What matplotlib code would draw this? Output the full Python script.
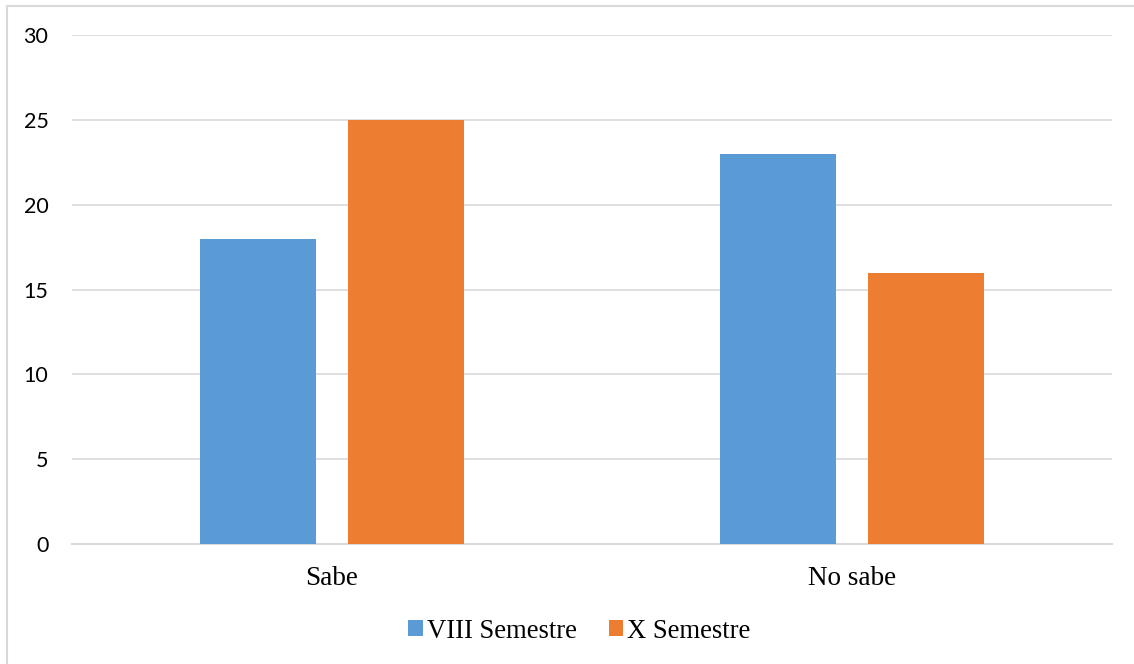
import matplotlib.pyplot as plt
import numpy as np
from matplotlib.patches import Rectangle

# datos
categorias = ['Sabe', 'No sabe']
viii_semestre = [18, 23]
x_semestre = [25, 16]
series = ['VIII Semestre', 'X Semestre']
ticks_y = [0, 5, 10, 15, 20, 25, 30]

azul = '#5B9BD5'
naranja = '#ED7D31'

fig = plt.figure(figsize=(11.34, 6.64), dpi=100)
ax = fig.add_axes([72 / 1134, 1 - 544 / 664, 1040 / 1134, 509 / 664])

x = np.arange(len(categorias))
ancho = 0.223
ax.bar(x - 0.142, viii_semestre, ancho, color=azul, label=series[0], zorder=3)
ax.bar(x + 0.142, x_semestre, ancho, color=naranja, label=series[1], zorder=3)

ax.set_xlim(-0.5, 1.5)
ax.set_ylim(0, 30)
ax.set_yticks(ticks_y)
ax.set_xticks(x)
ax.set_xticklabels(categorias, family='Liberation Serif', fontsize=19.5)
for lbl in ax.get_yticklabels():
    lbl.set_family('Lato')
    lbl.set_fontsize(15.5)
ax.tick_params(axis='both', length=0)
ax.tick_params(axis='y', pad=17)
ax.tick_params(axis='x', pad=16)
ax.grid(axis='y', color='#D9D9D9', linewidth=1.2, zorder=0)
for lado in ['top', 'right', 'left']:
    ax.spines[lado].set_visible(False)
ax.spines['bottom'].set_color('#D9D9D9')
ax.spines['bottom'].set_linewidth(1.5)

fig.legend(loc='center', bbox_to_anchor=(0.511, 1 - 631 / 664), ncol=2, frameon=False,
           prop={'family': 'Liberation Serif', 'size': 19.2},
           handlelength=0.55, handleheight=0.55, handletextpad=0.15, columnspacing=1.2)

# borde del grafico
fig.patches.append(Rectangle((7 / 1134, -0.1), 1.2, 1 - 6 / 664 + 0.1,
                             transform=fig.transFigure, fill=False,
                             edgecolor='#D9D9D9', linewidth=1.5))

fig.savefig('out.png', dpi=100)
